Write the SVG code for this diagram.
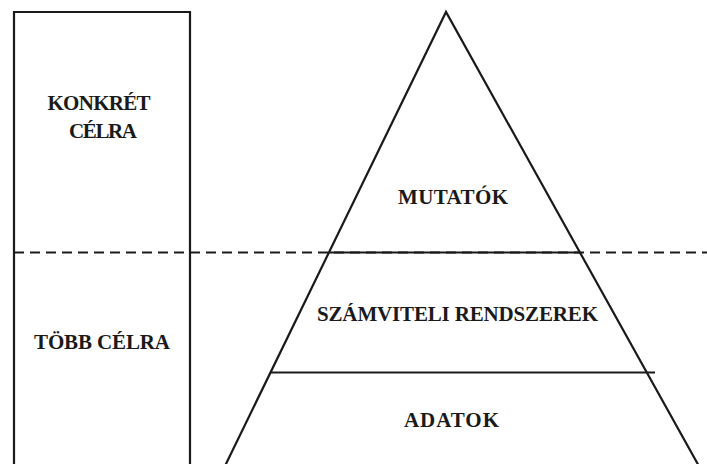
<svg xmlns="http://www.w3.org/2000/svg" width="707" height="464" viewBox="0 0 707 464">
<style>
.ln{stroke:#1a1a1a;stroke-width:2.2;fill:none}
.ds{stroke:#1a1a1a;stroke-width:2.2;fill:none;stroke-dasharray:10 6}
.t{font-family:"Liberation Serif","Times New Roman",serif;font-weight:bold;font-size:21px;fill:#1a1a1a;text-anchor:middle}
</style>
<rect width="707" height="464" fill="#fff"/>
<g id="connectors">
<line class="ds" x1="14" y1="252.5" x2="707" y2="252.5"/>
</g>
<g id="scope-box">
<polyline class="ln" points="14,470 14,12 190,12 190,470"/>
</g>
<g id="pyramid">
<polyline class="ln" points="224,468 446,12 700,468"/>
<line class="ln" x1="329" y1="252.5" x2="580" y2="252.5"/>
<line class="ln" x1="270" y1="372.5" x2="655" y2="372.5"/>
</g>
<g id="konkret">
<text class="t" x="99" y="110" textLength="103" lengthAdjust="spacing">KONKRÉT</text>
<text class="t" x="103" y="138" textLength="68" lengthAdjust="spacing">CÉLRA</text>
</g>
<g id="tobb">
<text class="t" x="102" y="349" textLength="136" lengthAdjust="spacing">TÖBB CÉLRA</text>
</g>
<g id="mutatok">
<text class="t" x="453" y="204" textLength="110" lengthAdjust="spacing">MUTATÓK</text>
</g>
<g id="szamviteli">
<text class="t" x="457.5" y="321" textLength="281" lengthAdjust="spacing">SZÁMVITELI RENDSZEREK</text>
</g>
<g id="adatok">
<text class="t" x="451.5" y="427" textLength="95" lengthAdjust="spacing">ADATOK</text>
</g>
</svg>
